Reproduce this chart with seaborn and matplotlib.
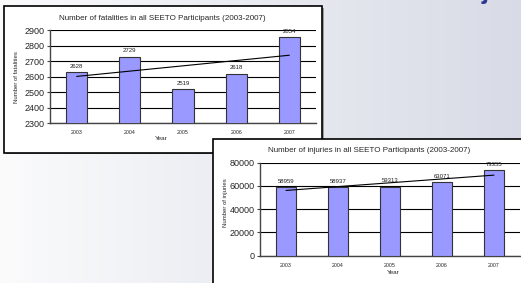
import numpy as np
import pandas as pd
import seaborn as sns
import matplotlib.pyplot as plt
from matplotlib.patches import Rectangle

# data
years = ['2003', '2004', '2005', '2006', '2007']
fatalities = [2628, 2729, 2519, 2618, 2854]
injuries = [58959, 58937, 59313, 63071, 73355]

sns.set_style('white')
plt.rcParams['font.family'] = ['Liberation Sans', 'DejaVu Sans']

W, H = 521, 283
fig = plt.figure(figsize=(W / 100, H / 100), dpi=100)

# slide background gradient
bg = fig.add_axes([0, 0, 1, 1])
grad = np.linspace(0, 1, 256)
c0 = np.array([251, 251, 252]) / 255
c1 = np.array([216, 219, 230]) / 255
img = (c0[None, :] + (c1 - c0)[None, :] * grad[:, None])[None, :, :]
bg.imshow(img, aspect='auto', extent=[0, 1, 0, 1])
bg.set_xlim(0, 1)
bg.set_ylim(0, 1)
bg.axis('off')

# slide title, mostly cut off at the top
fig.text(150 / W, 1 + 0.5 / H, 'Number of fatalities and injuries in SEETO Participants',
         fontsize=19, color='#2b3a8f', va='baseline', ha='left', fontweight='bold')


def px_box(x0, y0, x1, y1):
    return [x0 / W, 1 - y1 / H, (x1 - x0) / W, (y1 - y0) / H]


# white chart frames
for (x0, y0, x1, y1) in [(4, 6, 322, 153), (213, 139, 526, 290)]:
    l, b, w, h = px_box(x0, y0, x1, y1)
    fig.patches.append(Rectangle((l + 1.5 / W, b - 1.5 / H), w, h, transform=fig.transFigure,
                                 facecolor='#9a9a9a', edgecolor='none', zorder=1))
    fig.patches.append(Rectangle((l, b), w, h, transform=fig.transFigure,
                                 facecolor='white', edgecolor='black', linewidth=1.2, zorder=2))


def draw(ax, vals, ylim, step, title, ylabel, title_xy, ylab_xy, year_xy):
    df = pd.DataFrame({'Year': years, 'val': vals})
    sns.barplot(data=df, x='Year', y='val', color='#9999ff', edgecolor='#333333',
                linewidth=0.8, width=0.4, saturation=1, ax=ax, zorder=3)
    ax.bar_label(ax.containers[0], labels=[str(v) for v in vals], padding=2.5,
                 fontsize=4.3, color='#222222')
    sns.regplot(x=np.arange(len(vals)), y=np.array(vals), ci=None, scatter=False,
                truncate=True, line_kws={'color': 'black', 'lw': 0.8, 'zorder': 4}, ax=ax)
    ax.set_xlim(-0.5, len(vals) - 0.5)
    ax.set_ylim(*ylim)
    ax.set_yticks(np.arange(ylim[0], ylim[1] + 1, step))
    ax.yaxis.grid(True, color='black', lw=0.8)
    ax.set_axisbelow(True)
    ax.set_xticks(range(len(vals)))
    ax.set_xticks(np.arange(-0.5, len(vals)), minor=True)
    ax.tick_params(axis='x', which='major', length=0, labelsize=3.8, pad=5)
    ax.tick_params(axis='x', which='minor', length=2, width=0.8, color='#444444', direction='out')
    ax.tick_params(axis='y', length=2.5, width=0.8, labelsize=6.5, pad=1.5, direction='out',
                   left=True, color='#444444')
    ax.set_xlabel('')
    ax.set_ylabel('')
    ax.patch.set_alpha(0)
    for s in ['top', 'right']:
        ax.spines[s].set_visible(False)
    for s in ['left', 'bottom']:
        ax.spines[s].set_color('#444444')
        ax.spines[s].set_linewidth(1.0)
    fig.text(title_xy[0] / W, 1 - title_xy[1] / H, title, fontsize=5.8, ha='center', va='center', zorder=10)
    fig.text(ylab_xy[0] / W, 1 - ylab_xy[1] / H, ylabel, fontsize=4.3, ha='center', va='center',
             rotation=90, zorder=10)
    fig.text(year_xy[0] / W, 1 - year_xy[1] / H, 'Year', fontsize=4.6, ha='center', va='center', zorder=10)


ax1 = fig.add_axes(px_box(50, 30, 316, 123.3), zorder=5)
draw(ax1, fatalities, (2300, 2900), 100,
     'Number of fatalities in all SEETO Participants (2003-2007)', 'Number of fatalities',
     (162, 18), (16, 77), (161, 139))

ax2 = fig.add_axes(px_box(260, 162.7, 520, 255.7), zorder=5)
draw(ax2, injuries, (0, 80000), 20000,
     'Number of injuries in all SEETO Participants (2003-2007)', 'Number of injuries',
     (369, 151), (225, 203), (393, 272))

fig.savefig('out.png', dpi=100)
